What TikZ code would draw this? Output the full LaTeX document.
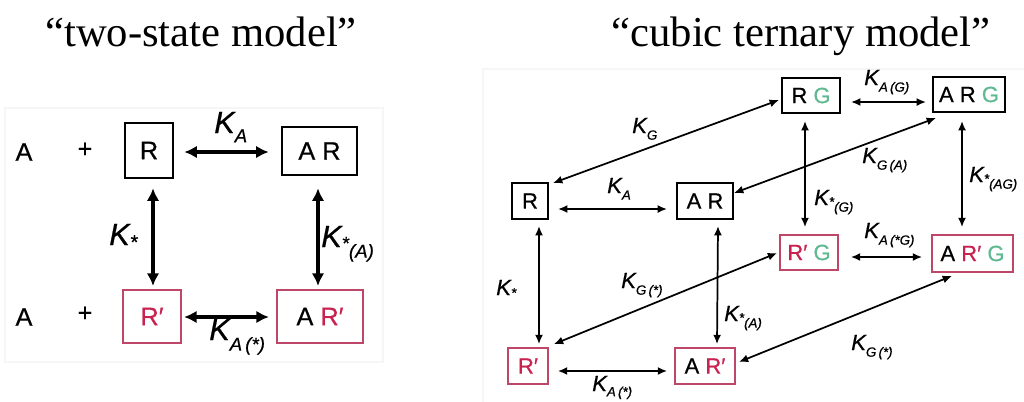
\documentclass[tikz,border=0pt]{standalone}
\usepackage{fontspec}
\setmainfont{Liberation Serif}
\setsansfont{Liberation Sans}[FakeBold=0.6]
\usetikzlibrary{arrows.meta,calc}
\definecolor{rbord}{RGB}{190,70,105}
\definecolor{rtext}{RGB}{200,35,80}
\definecolor{gtext}{RGB}{95,185,145}
\definecolor{faint}{RGB}{246,246,246}
\newcommand\Rp{\textcolor{rtext}{R′}}
\newcommand\Gg{\textcolor{gtext}{G}}
\newcommand\Ksb[3]{\raisebox{-#1}{\fontsize{#2}{#2}\selectfont\itshape #3}}
\begin{document}
\begin{tikzpicture}[x=0.75pt,y=-0.75pt,
  lbox/.style={draw=black, line width=1.9pt, inner sep=0pt, font=\sffamily\fontsize{19}{19}\selectfont},
  lrbox/.style={lbox, draw=rbord, line width=1.6pt},
  rbox/.style={draw=black, line width=1.5pt, inner sep=0pt, font=\sffamily\fontsize{16.5}{16.5}\selectfont},
  rrbox/.style={rbox, draw=rbord, line width=1.3pt},
  larr/.style={{Latex[length=9.5pt,width=9.5pt]}-{Latex[length=9.5pt,width=9.5pt]}, line width=2.3pt},
  rarr/.style={{Latex[length=7pt,width=6pt]}-{Latex[length=7pt,width=6pt]}, line width=1.3pt},
  lk/.style={font=\sffamily\itshape\fontsize{23}{23}\selectfont, inner sep=0pt, anchor=base west},
  rk/.style={font=\sffamily\itshape\fontsize{16.5}{16.5}\selectfont, inner sep=0pt, anchor=base west},
  plain/.style={font=\sffamily\fontsize{19}{19}\selectfont, inner sep=0pt},
  title/.style={font=\fontsize{32}{32}\selectfont, inner sep=0pt, anchor=base}
]
\useasboundingbox (0,0) rectangle (1024,401);
\fill[white] (0,0) rectangle (1024,401);
\draw[faint, line width=0.8pt] (5,108) rectangle (383,362);
\draw[faint, line width=0.8pt] (483,69) rectangle (1030,405);

% titles
\node[title] (t1) at (201,46) {“two-state model”};
\node[title] (t2) at (801,46) {“cubic ternary model”};

% ---------- two-state model ----------
\node[plain] (a1) at (24,152) {A};
\node[plain] (p1) at (85,150) {+};
\node[plain] (a2) at (24,317) {A};
\node[plain] (p2) at (85,314) {+};

\node[lbox, minimum width=36pt, minimum height=41.25pt] (L1) at (149,150.5) {R};
\node[lbox, minimum width=56.25pt, minimum height=36pt] (L2) at (319.5,151) {A R};
\node[lrbox, minimum width=43.5pt, minimum height=39.75pt] (L3) at (152,316.5) {\Rp};
\node[lrbox, minimum width=64.5pt, minimum height=39.75pt] (L4) at (320,316.5) {A \Rp};

\draw[larr] ($(L1.east)+(10,1.5)$) -- ($(L2.west)+(-12,1)$);
\draw[larr] ($(L1.south)+(4,9)$) -- ($(L3.north)+(1,-3)$);
\draw[larr] ($(L2.south)+(-1.5,12)$) -- ($(L4.north)+(-2,-3)$);
\draw[larr] ($(L3.east)+(2,0.5)$) -- ($(L4.west)+(-7,0.5)$);

\node[lk] (lkA) at (214,133) {K\Ksb{7pt}{14}{A}};
\node[lk] (lks) at (109,245) {K\Ksb{3pt}{15}{*}};
\node[lk] (lksA) at (321,247) {K\Ksb{2pt}{14}{*}\Ksb{8pt}{14}{(A)}};
\node[lk] (lkAs) at (209,340) {K\Ksb{8pt}{14}{A\,(*)}};

% ---------- cubic ternary model ----------
\node[rbox, minimum width=27pt, minimum height=27pt] (R) at (530,201) {R};
\node[rbox, minimum width=42pt, minimum height=27pt] (AR) at (705,201) {A R};
\node[rbox, minimum width=43.5pt, minimum height=26.25pt] (RG) at (811,95.5) {R \Gg};
\node[rbox, minimum width=54pt, minimum height=26.25pt] (ARG) at (969,94.5) {A R \Gg};
\node[rrbox, minimum width=30pt, minimum height=27pt] (Rq) at (528,366) {\Rp};
\node[rrbox, minimum width=45pt, minimum height=27pt] (ARq) at (705,366) {A \Rp};
\node[rrbox, minimum width=43.5pt, minimum height=26.25pt] (RqG) at (809,252.5) {\Rp\ \Gg};
\node[rrbox, minimum width=60.75pt, minimum height=27.75pt] (ARqG) at (972.5,253.5) {A \Rp\ \Gg};

% diagonal
\draw[rarr] ($(R.north east)+(4,1)$) -- ($(RG.west)+(-2,4.5)$);
\draw[rarr] ($(AR.east)+(0,-8)$) -- ($(ARG.south west)+(4,5)$);
\draw[rarr] ($(Rq.north east)+(5,-3)$) -- ($(RqG.west)+(-2,0.5)$);
\draw[rarr] ($(ARq.east)+(3,-4)$) -- ($(ARqG.south)+(-20.5,3)$);
% vertical
\draw[rarr] ($(R.south)+(9,6)$) -- ($(Rq.north)+(11,-3)$);
\draw[rarr] ($(AR.south)+(13,6)$) -- ($(ARq.north)+(12,-3)$);
\draw[rarr] ($(RG.south)+(-6,7)$) -- ($(RqG.north)+(-4,-7)$);
\draw[rarr] ($(ARG.south)+(-7,8)$) -- ($(ARqG.north)+(-10.5,-7)$);
% horizontal
\draw[rarr] ($(R.east)+(9,8)$) -- ($(AR.west)+(-9,8)$);
\draw[rarr] ($(RG.east)+(10,6.5)$) -- ($(ARG.west)+(-6,7.5)$);
\draw[rarr] ($(RqG.east)+(12,4.5)$) -- ($(ARqG.west)+(-9,3.5)$);
\draw[rarr] ($(Rq.east)+(9,5)$) -- ($(ARq.west)+(-7,5)$);

% labels
\node[rk] (kA) at (607,193) {K\Ksb{5pt}{10}{A}};
\node[rk] (kG) at (632,133) {K\Ksb{5pt}{10}{G}};
\node[rk] (kAG) at (864,85) {K\Ksb{5pt}{10}{A\,(G)}};
\node[rk] (kGA) at (862,163) {K\Ksb{5pt}{10}{G\,(A)}};
\node[rk] (ksG) at (814,205) {K\Ksb{1pt}{10}{*}\Ksb{5pt}{10}{(G)}};
\node[rk] (ksAG) at (969,182) {K\Ksb{1pt}{10}{*}\Ksb{5pt}{10}{(AG)}};
\node[rk] (kAsG) at (864,238) {K\Ksb{5pt}{10}{A\,(*G)}};
\node[rk] (ks) at (496,295) {K\Ksb{2pt}{10.5}{*}};
\node[rk] (kGs1) at (621,288) {K\Ksb{5pt}{10}{G\,(*)}};
\node[rk] (ksA) at (724,321) {K\Ksb{1pt}{10}{*}\Ksb{5pt}{10}{(A)}};
\node[rk] (kGs2) at (851,350) {K\Ksb{5pt}{10}{G\,(*)}};
\node[rk] (kAs) at (592,391) {K\Ksb{4pt}{10}{A\,(*)}};
\end{tikzpicture}
\end{document}
